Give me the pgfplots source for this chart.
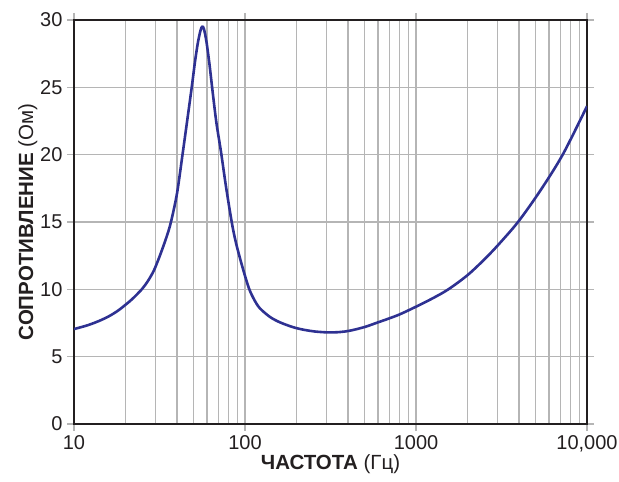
\documentclass[border=0pt]{standalone}
\usepackage{pgfplots}
\pgfplotsset{compat=1.18}
\usepackage{fontspec}
\setmainfont{Liberation Sans}
\definecolor{curve}{HTML}{2E3192}
\definecolor{gridc}{HTML}{B5B5B5}
\definecolor{axc}{HTML}{231F20}
\begin{document}
\begin{tikzpicture}
\begin{axis}[
    name=ax,
    scale only axis,
    width=513pt, height=404pt,
    xmode=log, log basis x=10,
    xmin=10, xmax=10000,
    ymin=0, ymax=30,
    xtick={10,100,1000,10000},
    xticklabels={10,100,1000,{10,000}},
    minor xtick={20,30,40,50,60,70,80,90,200,300,400,500,600,700,800,900,2000,3000,4000,5000,6000,7000,8000,9000},
    ytick={0,5,...,30},
    /pgf/number format/assume math mode=true,
    tick label style={font=\fontsize{20}{24}\selectfont, text=axc},
    label style={font=\fontsize{20.5}{24}\selectfont, text=axc},
    xmajorgrids, xminorgrids, ymajorgrids,
    grid style={gridc, line width=1.3pt},
    minor grid style={gridc, line width=1.3pt},
    axis line style={axc, line width=1.8pt},
    tick align=outside,
    major tick length=7pt, minor tick length=0pt,
    tick style={gridc, line width=1.2pt},
    xticklabel style={yshift=-1pt},
    yticklabel style={xshift=-1pt},
    xlabel={\textbf{ЧАСТОТА} (Гц)},
    ylabel={\textbf{СОПРОТИВЛЕНИЕ} (Ом)},
    xlabel style={yshift=4pt},
    ylabel style={yshift=-4pt},
]
\addplot[curve, line width=2.6pt, smooth, tension=0.5] coordinates {
(10,7.05) (12,7.33) (14,7.65) (16,8.0) (18,8.4) (20,8.85) (22,9.3) (24.9,10.0)
(27,10.6) (29.4,11.43) (32,12.6) (34.8,13.9) (36.9,15.0) (40,17.1)
(43,19.9) (46,22.6) (48.8,25.0) (51,26.9) (53,28.3) (55,29.25) (56.2,29.5)
(57.5,29.35) (59.5,28.4) (62,26.7) (64.5,24.8) (68,22.4) (72.4,20.2)
(77.5,17.6) (83.6,15.0) (88,13.6) (93.5,12.3) (100,11.0) (106,10.0)
(113,9.25) (122,8.6) (140,7.95) (160,7.55) (190,7.2) (220,7.0) (260,6.86)
(310,6.8) (360,6.83) (411,6.93) (500,7.2) (600,7.55) (700,7.85) (806,8.15)
(1000,8.71) (1250,9.33) (1546,10.0) (2000,11.05) (2500,12.2) (3000,13.25)
(3950,15.0) (5313,17.3) (7210,20.0) (10000,23.6)
};
\end{axis}
\pgfresetboundingbox
\path[use as bounding box] ([shift={(-74pt,-57pt)}]ax.south west) rectangle ([shift={(32pt,20pt)}]ax.north east);
\end{tikzpicture}
\end{document}
